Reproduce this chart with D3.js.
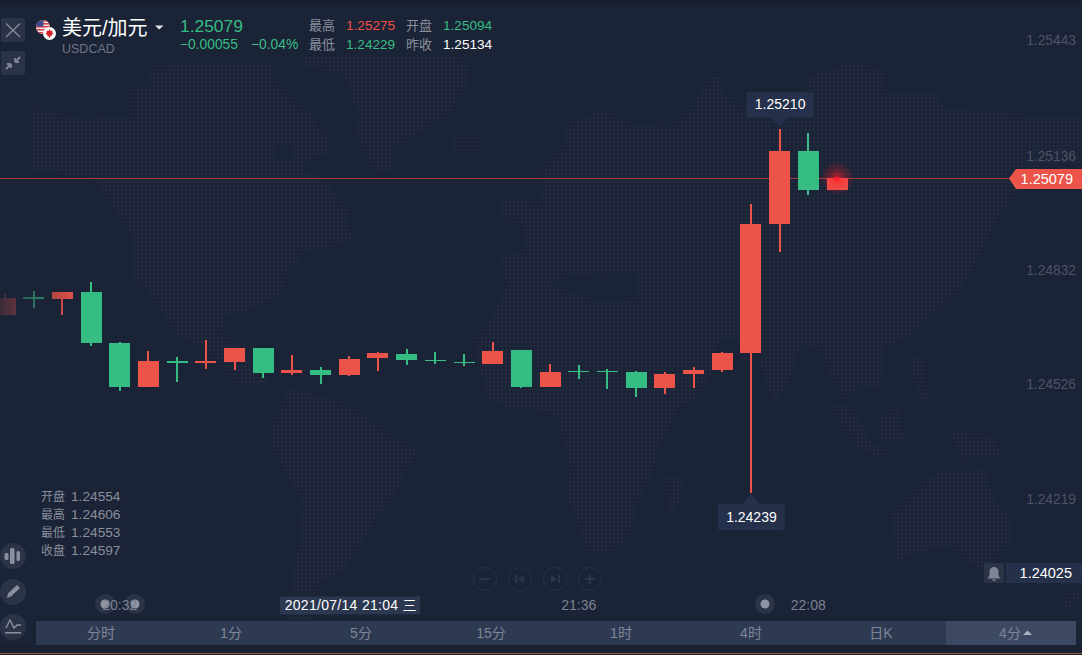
<!DOCTYPE html>
<html><head><meta charset="utf-8">
<script src="https://cdn.jsdelivr.net/npm/d3@7/dist/d3.min.js"></script>
<style>
html,body{margin:0;padding:0;background:#1b2336;overflow:hidden}
svg{display:block}
text{font-family:"Liberation Sans","Noto Sans CJK SC",sans-serif}
</style></head><body><svg id="c" width="1082" height="655"></svg>
<script>
// ---------- data ----------
const open  = [1.24715,1.24763,1.24757,1.24776,1.24640,1.24523,1.24592,1.24587,1.24589,1.24627,1.24560,1.24568,1.24554,1.24600,1.24611,1.24595,1.24589,1.24584,1.24621,1.24523,1.24565,1.24565,1.24563,1.24520,1.24557,1.24568,1.24613,1.24957,1.25152,1.25048];
const high  = [1.24771,1.24779,1.24776,1.24803,1.24643,1.24619,1.24603,1.24648,1.24627,1.24627,1.24608,1.24576,1.24606,1.24616,1.24624,1.24616,1.24611,1.24643,1.24621,1.24584,1.24581,1.24571,1.24565,1.24563,1.24576,1.24616,1.25011,1.25210,1.25200,1.25079];
const low   = [1.24712,1.24733,1.24715,1.24632,1.24512,1.24523,1.24536,1.24571,1.24568,1.24547,1.24555,1.24531,1.24553,1.24565,1.24581,1.24584,1.24579,1.24584,1.24520,1.24523,1.24544,1.24517,1.24496,1.24504,1.24520,1.24563,1.24239,1.24883,1.25035,1.25048];
const close = [1.24760,1.24757,1.24776,1.24640,1.24523,1.24592,1.24587,1.24592,1.24627,1.24560,1.24568,1.24555,1.24597,1.24613,1.24595,1.24592,1.24587,1.24619,1.24523,1.24563,1.24563,1.24563,1.24520,1.24557,1.24568,1.24613,1.24957,1.25152,1.25048,1.25079];
const priceTicks = [1.25443,1.25136,1.24832,1.24526,1.24219];
const timeTickIndex = [4,20,28];
const timeTickLabels = ["20:32","21:36","22:08"];
const crossIndex = 12;
const crossLabel = "2021/07/14 21:04 三";
const lastPrice = 1.25079;
const alertPrice = 1.24025;
const panelLabels = ["开盘","最高","最低","收盘"];
const tabs = ["分时","1分","5分","15分","1时","4时","日K","4分"];

// background map outlines (decoration only)
const land = [
 [[32,110],[85,118],[130,115],[130,87],[150,85],[148,66],[270,62],[275,80],[290,95],[300,105],[310,112],[320,130],[330,138],[328,155],[305,160],[303,170],[325,178],[335,195],[345,205],[352,215],[345,220],[356,240],[330,247],[300,252],[298,262],[287,270],[285,290],[270,300],[250,310],[225,315],[222,335],[250,355],[270,383],[240,385],[200,345],[177,337],[160,310],[147,290],[133,277],[133,237],[127,227],[113,207],[103,193],[93,178],[32,170]],
 [[303,56],[455,56],[470,65],[468,83],[455,105],[447,117],[427,127],[413,137],[393,147],[390,170],[383,173],[373,167],[363,153],[360,143],[355,130],[360,113],[350,100],[350,87],[340,73],[303,67]],
 [[452,138],[482,138],[482,150],[452,150]],
 [[270,427],[283,400],[283,387],[337,400],[367,417],[390,435],[415,447],[415,457],[403,473],[403,483],[380,513],[363,540],[350,560],[343,570],[323,580],[310,603],[305,650],[285,650],[293,573],[300,540],[302,500],[290,480],[280,463],[270,443]],
 [[545,165],[563,147],[567,123],[604,110],[630,123],[667,127],[693,107],[704,83],[719,73],[723,93],[752,113],[804,107],[808,77],[856,60],[886,73],[882,93],[934,93],[945,107],[1001,113],[1057,117],[1082,117],[1082,165],[1040,165],[1020,190],[1000,215],[985,245],[975,265],[960,290],[925,320],[905,340],[885,345],[880,390],[860,385],[845,400],[830,375],[820,350],[800,345],[790,380],[775,403],[765,385],[758,350],[745,340],[720,338],[713,370],[695,400],[680,407],[657,450],[653,473],[638,500],[633,530],[617,550],[587,553],[580,530],[567,497],[570,467],[563,440],[557,417],[530,407],[507,407],[487,397],[473,340],[487,327],[493,313],[507,287],[500,257],[525,250],[522,225],[500,215],[500,200],[525,200]],
 [[910,357],[925,357],[927,403],[917,397]],
 [[830,403],[850,403],[870,440],[890,455],[885,458],[860,450],[840,425]],
 [[877,420],[900,405],[903,440],[880,440]],
 [[950,432],[995,435],[1000,455],[960,458]],
 [[940,470],[960,473],[980,467],[987,473],[993,497],[1013,520],[1013,540],[1000,553],[987,570],[967,563],[953,547],[927,550],[897,560],[890,513],[913,493],[927,480]],
 [[665,477],[685,477],[680,500],[668,520]],
 [[1060,600],[1080,587],[1082,595],[1068,610]]
];
const water = [
 [[275,145],[291,145],[291,161],[275,161]],
 [[548,283],[575,275],[635,272],[635,298],[600,300],[570,293]],
 [[530,175],[545,175],[540,205],[528,200]],
 [[505,225],[520,225],[518,250],[503,250]]
];

// ---------- colours ----------
const RED="#ec5449", GREEN="#36bd84", BG="#1b2336", PANEL="#25304a", MUTED="#8a8f9d", TICK="#4d5466";

// ---------- scales ----------
const candles = open.map((o,i)=>({i,o,h:high[i],l:low[i],c:close[i]}));
const x = d3.scaleLinear().domain([0,open.length-1]).range([5,837]);
const y = d3.scaleLinear().domain([priceTicks[0],priceTicks[4]]).range([41.9,500.9]);
const bodyW = 21, wickW = 2;

const svg = d3.select("#c");
const defs = svg.append("defs");

// backgrounds
svg.append("rect").attr("width",1082).attr("height",655).attr("fill",BG);
svg.append("rect").attr("width",1082).attr("height",5).attr("fill","#171f30");

// dotted world map
const pat = defs.append("pattern").attr("id","dots").attr("width",4).attr("height",4).attr("patternUnits","userSpaceOnUse");
pat.append("rect").attr("x",0.7).attr("y",0.7).attr("width",2.4).attr("height",2.4).attr("rx",0.9).attr("fill","#232b3e");
const mask = defs.append("mask").attr("id","landMask").attr("maskUnits","userSpaceOnUse").attr("x",0).attr("y",0).attr("width",1082).attr("height",655);
const line = d3.line().curve(d3.curveLinearClosed);
mask.selectAll("path.l").data(land).join("path").attr("class","l").attr("d",line).attr("fill","#fff");
mask.selectAll("path.w").data(water).join("path").attr("class","w").attr("d",line).attr("fill","#000");
svg.append("rect").attr("width",1082).attr("height",655).attr("fill","url(#dots)").attr("mask","url(#landMask)");

// price axis labels
svg.selectAll("text.tick").data(priceTicks).join("text").attr("class","tick")
  .attr("x",1076).attr("y",d=>y(d)+3.5).attr("text-anchor","end")
  .attr("font-size",13.8).attr("fill",TICK).text(d=>d.toFixed(5));

// current price line
const yLast = Math.round(y(lastPrice))+0.5;
svg.append("line").attr("x1",0).attr("x2",1010).attr("y1",yLast).attr("y2",yLast).attr("stroke","#a53d3c").attr("stroke-width",1);

// candles
const col = d=>d.c>=d.o?RED:GREEN;
const g = svg.append("g");
g.selectAll("rect.w").data(candles).join("rect").attr("class","w")
  .attr("x",d=>Math.round(x(d.i)-wickW/2)).attr("width",wickW)
  .attr("y",d=>Math.round(y(d.h))).attr("height",d=>Math.max(1,Math.round(y(d.l))-Math.round(y(d.h))))
  .attr("fill",col);
g.selectAll("rect.b").data(candles).join("rect").attr("class","b")
  .attr("x",d=>Math.round(x(d.i)-bodyW/2)).attr("width",bodyW)
  .attr("y",d=>Math.round(y(Math.max(d.o,d.c))))
  .attr("height",d=>Math.max(1,Math.round(y(Math.min(d.o,d.c)))-Math.round(y(Math.max(d.o,d.c)))))
  .attr("fill",col);

// left fade
const fade = defs.append("linearGradient").attr("id","fade");
fade.append("stop").attr("offset",0).attr("stop-color",BG).attr("stop-opacity",0.85);
fade.append("stop").attr("offset",1).attr("stop-color",BG).attr("stop-opacity",0);
svg.append("rect").attr("x",0).attr("y",270).attr("width",78).attr("height",70).attr("fill","url(#fade)");

// glow at the live price
const glow = defs.append("radialGradient").attr("id","glow");
glow.append("stop").attr("offset",0).attr("stop-color","#ff1c28").attr("stop-opacity",0.75);
glow.append("stop").attr("offset",0.45).attr("stop-color","#ff1c28").attr("stop-opacity",0.3);
glow.append("stop").attr("offset",1).attr("stop-color","#ff1c28").attr("stop-opacity",0);
const lastX = x(candles.length-1);
svg.append("circle").attr("cx",lastX).attr("cy",yLast).attr("r",17).attr("fill","url(#glow)");
svg.append("circle").attr("cx",lastX).attr("cy",yLast).attr("r",2).attr("fill","#ff1c28");

// high / low callouts
const iHi = d3.maxIndex(candles.slice(0,28),d=>d.h), iLo = d3.minIndex(candles,d=>d.l);
function callout(i,val,up){
  const cx=x(i), yy=Math.round(y(val)), w=67,h=up?25:26;
  const top = up? yy-37 : yy+11;
  const gg=svg.append("g");
  gg.append("rect").attr("x",cx-33).attr("y",top).attr("width",w).attr("height",h).attr("rx",2).attr("fill",PANEL);
  const tip = up? `M${cx-9},${top+h}L${cx},${top+h+10}L${cx+9},${top+h}Z` : `M${cx-9},${top}L${cx},${top-10}L${cx+9},${top}Z`;
  gg.append("path").attr("d",tip).attr("fill",PANEL);
  gg.append("text").attr("x",cx+0.5).attr("y",top+h/2+4.5).attr("text-anchor","middle").attr("font-size",14).attr("fill","#fff").text(val.toFixed(5));
}
callout(iHi,high[iHi],true);
callout(iLo,low[iLo],false);

// live price tag
svg.append("path").attr("d",`M1009,${yLast}L1016,169H1082V189H1016Z`).attr("fill",RED);
svg.append("text").attr("x",1073).attr("y",yLast+5).attr("text-anchor","end").attr("font-size",14.5).attr("fill","#fff").text(lastPrice.toFixed(5));

// alert tag
svg.append("rect").attr("x",984).attr("y",563).attr("width",20).attr("height",20).attr("rx",2).attr("fill","#2b3446");
svg.append("path").attr("d","M987.5,578.5 C990,576 989.5,573 989.5,571.5 C989.5,568.5 991.5,567 994,567 C996.5,567 998.5,568.5 998.5,571.5 C998.5,573 998,576 1000.5,578.5Z M992,579.5h4a2,1.6 0 0 1 -4,0Z").attr("fill","#7f8596");
svg.append("rect").attr("x",1006).attr("y",563).attr("width",76).attr("height",20).attr("fill",PANEL);
svg.append("text").attr("x",1072).attr("y",578).attr("text-anchor","end").attr("font-size",14.5).attr("fill","#fff").text(alertPrice.toFixed(5));

// header
function t(xx,yy,s,size,fill,anchor){return svg.append("text").attr("x",xx).attr("y",yy).attr("font-size",size).attr("fill",fill).attr("text-anchor",anchor||"start").text(s);}
t(62,34.5,"美元/加元",20,"#fff");
t(62,52.5,"USDCAD",12.5,"#6f7687");
svg.append("path").attr("d","M155,25.5H163.5L159.2,29.5Z").attr("fill","#e6e8ee");
t(180,32,lastPrice.toFixed(5),17.4,GREEN);
t(180,49,"−0.00055",13.8,GREEN);
t(251,49,"−0.04%",13.8,GREEN);
t(309,29.5,"最高",13,MUTED); t(346,29.5,"1.25275",13.6,"#ee4e45");
t(406,29.5,"开盘",13,MUTED); t(443,29.5,"1.25094",13.6,GREEN);
t(309,49,"最低",13,MUTED); t(346,49,"1.24229",13.6,GREEN);
t(406,49,"昨收",13,MUTED); t(443,49,"1.25134",13.6,"#fff");

// flags
const us=defs.append("clipPath").attr("id","us"); us.append("circle").attr("cx",43).attr("cy",27).attr("r",7);
const fus=svg.append("g").attr("clip-path","url(#us)");
fus.append("rect").attr("x",36).attr("y",20).attr("width",14).attr("height",14).attr("fill","#f3f0f0");
[20,23,26,29,32].forEach(v=>fus.append("rect").attr("x",36).attr("y",v).attr("width",14).attr("height",1.6).attr("fill","#d9404a"));
fus.append("rect").attr("x",36).attr("y",20).attr("width",7.5).attr("height",6.5).attr("fill","#3a4a8c");
svg.append("circle").attr("cx",49.5).attr("cy",33.5).attr("r",6.5).attr("fill","#fff");
svg.append("path").attr("d","M49.5,29L50.6,31L52.5,30.6L52,32.6L53.6,33L51.5,35.3L51.7,36.3H50V38H49V36.3H47.3L47.5,35.3L45.4,33L47,32.6L46.5,30.6L48.4,31Z").attr("fill","#d8232a");

// top-left buttons
[[1,18],[1,51]].forEach(p=>svg.append("rect").attr("x",p[0]).attr("y",p[1]).attr("width",24).attr("height",24).attr("rx",2).attr("fill","#2b3446"));
svg.append("path").attr("d","M6,23.5L20,37M20,23.5L6,37").attr("stroke","#7f8596").attr("stroke-width",1.5).attr("fill","none");
svg.append("path").attr("d","M6,69L11,64M11,64V68M11,64H7 M20,57L15,62M15,62V58M15,62H19").attr("stroke","#7f8596").attr("stroke-width",1.8).attr("fill","none");

// OHLC panel
const cc=candles[crossIndex];
[cc.o,cc.h,cc.l,cc.c].forEach((v,i)=>{
  const yy=500.5+i*18;
  t(41,yy,panelLabels[i],12,MUTED);
  t(71,yy,v.toFixed(5),13.7,MUTED);
});

// left tool circles
[556,592,627].forEach(cy=>svg.append("circle").attr("cx",13).attr("cy",cy).attr("r",13).attr("fill","#2b3446"));
const ic=svg.append("g").attr("fill","#8a8f9d");
[[6,553,4,7],[11.5,548,4.5,16],[18,551,3.5,10]].forEach(r=>ic.append("rect").attr("x",r[0]-1.5).attr("y",r[1]).attr("width",r[2]).attr("height",r[3]).attr("rx",1.5));
ic.append("path").attr("d","M7,598L8,593.5L17,585L20,588L11,596.5Z");
svg.append("path").attr("d","M6,628L10,620L14,628L17,625H21").attr("stroke","#8a8f9d").attr("stroke-width",1.4).attr("fill","none");
svg.append("rect").attr("x",5).attr("y",632).attr("width",16).attr("height",1.5).attr("fill","#8a8f9d");

// nav buttons
const nav=[485,520,555,590];
svg.selectAll("circle.nav").data(nav).join("circle").attr("class","nav").attr("cx",d=>d).attr("cy",579).attr("r",11.5).attr("fill","none").attr("stroke","#283147").attr("stroke-width",1);
const ng="#2c3549";
svg.append("rect").attr("x",479).attr("y",578).attr("width",11).attr("height",2).attr("fill",ng);
svg.append("path").attr("d","M515,575h2v8h-2Z M524,575v8l-6,-4Z M560,575h-2v8h2Z M551,575v8l6,-4Z M589,574h2v4h4v2h-4v4h-2v-4h-4v-2h4Z").attr("fill",ng);

// event markers
[[105,604],[135,604],[765,604]].forEach(p=>{
  svg.append("circle").attr("cx",p[0]).attr("cy",p[1]).attr("r",10).attr("fill","#2b3446");
  svg.append("circle").attr("cx",p[0]).attr("cy",p[1]).attr("r",4.5).attr("fill","#8f94a2");
});

// time axis
const axisG=svg.append("g");
axisG.selectAll("text").data(timeTickIndex).join("text")
  .attr("x",d=>x(d)).attr("y",610).attr("text-anchor","middle").attr("font-size",14).attr("fill","#7b8191")
  .text((d,i)=>timeTickLabels[i]);
svg.append("text").attr("x",x(4)).attr("y",610).attr("text-anchor","middle").attr("font-size",14).attr("fill","#7b8191").attr("opacity",0.6).text("");
const dx=x(crossIndex);
svg.append("rect").attr("x",280).attr("y",596.5).attr("width",140).attr("height",18).attr("fill","#2c3750");
svg.append("text").attr("x",dx+1.5).attr("y",610).attr("text-anchor","middle").attr("font-size",14).attr("letter-spacing",0.3).attr("fill","#fff").text(crossLabel);

// period tabs
svg.append("rect").attr("x",0).attr("y",645).attr("width",1082).attr("height",8).attr("fill","#192133");
svg.append("rect").attr("x",36).attr("y",621).attr("width",1040).attr("height",24).attr("fill","#2e3a52");
svg.append("rect").attr("x",946).attr("y",621).attr("width",130).attr("height",24).attr("rx",1).attr("fill","#3d4963");
const tabX=d3.scaleBand().domain(tabs).range([36,1076]);
svg.selectAll("text.tab").data(tabs).join("text").attr("class","tab")
  .attr("x",d=>tabX(d)+tabX.bandwidth()/2-(d==="4分"?1:0)).attr("y",638).attr("text-anchor","middle")
  .attr("font-size",14).attr("fill","#7e8698").text(d=>d);
svg.append("path").attr("d","M1023,635L1027.5,630.5L1032,635Z").attr("fill","#aab0bf");
svg.append("rect").attr("x",0).attr("y",653).attr("width",1082).attr("height",1).attr("fill","#8a5a3c");
svg.append("rect").attr("x",0).attr("y",654).attr("width",1082).attr("height",1).attr("fill","#1a2030");
</script></body></html>
